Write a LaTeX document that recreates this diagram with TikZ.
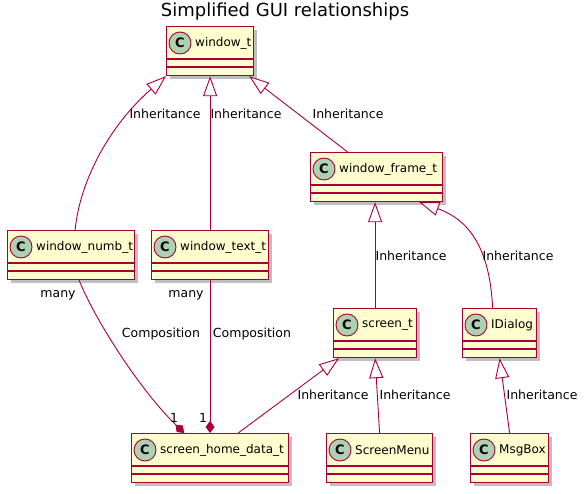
\documentclass[tikz,border=0pt]{standalone}
\usepackage{fontspec}
\setmainfont{DejaVu Sans}
\usetikzlibrary{arrows.meta,shadows}
\definecolor{umlborder}{RGB}{168,0,54}
\definecolor{umlfill}{RGB}{254,254,206}
\definecolor{umlcircle}{RGB}{173,209,178}

\newcommand{\umlclass}[5]{%
  \node[classbox, minimum width=#4pt, anchor=north west] (#1) at (#2,#3) {};
  \draw[classbar] ([yshift=-33pt]#1.north west) -- ([yshift=-33pt]#1.north east);
  \draw[classbar] ([yshift=-41pt]#1.north west) -- ([yshift=-41pt]#1.north east);
  \node[classmark] (#1-c) at ([xshift=14pt,yshift=-17pt]#1.north west) {C};
  \node[classname] (#1-n) at ([xshift=29pt,yshift=-17pt]#1.north west) {#5};
}

\begin{document}
\begin{tikzpicture}[x=1pt, y=-1pt,
  classbox/.style={draw=umlborder, fill=umlfill, line width=1.2pt, minimum height=49pt, inner sep=0pt,
    drop shadow={shadow xshift=3pt, shadow yshift=-3pt, fill=black, opacity=0.25}},
  classbar/.style={draw=umlborder, line width=1.2pt},
  classmark/.style={circle, draw=umlborder, fill=umlcircle, line width=0.9pt, minimum size=22pt, inner sep=0pt,
    font=\bfseries\fontsize{13}{13}\selectfont},
  classname/.style={anchor=west, inner sep=0pt, font=\fontsize{12}{14}\selectfont},
  edgelabel/.style={inner sep=0pt, font=\fontsize{12.5}{15}\selectfont},
  link/.style={draw=umlborder, line width=0.9pt},
  inherit/.style={link, -{Triangle[fill=white, length=20pt, width=14pt]}},
  compose/.style={link, -{Diamond[fill=umlborder, length=12pt, width=9pt]}}]
\useasboundingbox (0,0) rectangle (584,494);
\node[font=\fontsize{18}{20}\selectfont] (title) at (285,12) {Simplified GUI relationships};

\umlclass{wint}{166}{26}{87}{window\_t}
\umlclass{frame}{310}{152}{132}{window\_frame\_t}
\umlclass{numb}{7}{230}{127}{window\_numb\_t}
\umlclass{textt}{151}{230}{117}{window\_text\_t}
\umlclass{screen}{333}{308}{83}{screen\_t}
\umlclass{dialog}{462}{308}{74}{IDialog}
\umlclass{home}{131}{433}{157}{screen\_home\_data\_t}
\umlclass{menu}{326}{433}{106}{ScreenMenu}
\umlclass{msgbox}{470}{433}{78}{MsgBox}

\draw[inherit] ([xshift=4pt]numb.north) .. controls (80,180) and (110,125) .. (wint.south west);
\draw[inherit] (textt.north) -- (wint.south);
\draw[inherit] ([xshift=-29pt]frame.north) -- ([xshift=-5pt]wint.south east);
\draw[inherit] (screen.north) -- (screen.north |- frame.south);
\draw[inherit] ([xshift=-7pt]dialog.north) .. controls (490,250) and (470,220) .. ([xshift=-24pt]frame.south east);
\draw[compose] ([xshift=8pt]numb.south) .. controls (95,320) and (140,390) .. ([xshift=-26pt]home.north);
\draw[compose] (textt.south) -- (home.north);
\draw[inherit] ([xshift=-51pt]home.north east) -- ([xshift=6pt]screen.south west);
\draw[inherit] (menu.north) -- (screen.south);
\draw[inherit] (msgbox.north) -- (dialog.south);

\node[edgelabel] (inh1) at (165,114) {Inheritance};
\node[edgelabel] (inh2) at (246,114) {Inheritance};
\node[edgelabel] (inh3) at (348,114) {Inheritance};
\node[edgelabel] (inh4) at (411,256) {Inheritance};
\node[edgelabel] (inh5) at (518,256) {Inheritance};
\node[edgelabel] (inh6) at (333,395) {Inheritance};
\node[edgelabel] (inh7) at (415,395) {Inheritance};
\node[edgelabel] (inh8) at (542,395) {Inheritance};
\node[edgelabel] (comp1) at (161,334) {Composition};
\node[edgelabel] (comp2) at (252,334) {Composition};
\node[edgelabel] (many1) at (58,295) {many};
\node[edgelabel] (many2) at (186,295) {many};
\node[edgelabel] (one1) at (174,418) {1};
\node[edgelabel] (one2) at (203,418) {1};
\end{tikzpicture}
\end{document}
